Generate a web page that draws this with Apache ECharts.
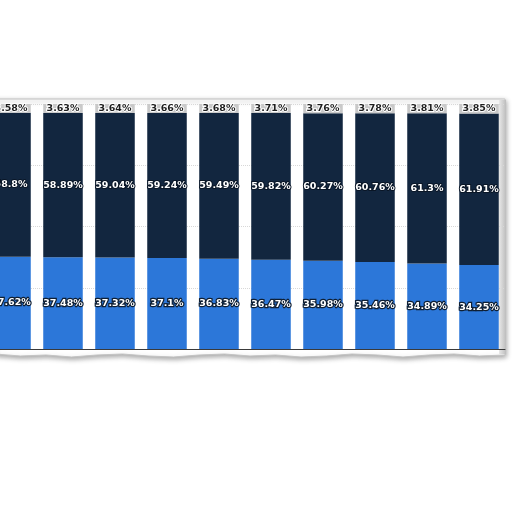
<!DOCTYPE html>
<html>
<head>
    <meta charset="utf-8">
    <title>ECharts</title>
    <script src="https://cdn.jsdelivr.net/npm/echarts@6/dist/echarts.min.js"></script>
    <style>
        html, body { margin: 0; padding: 0; background: #ffffff; }
    </style>
</head>
<body>
    <div id="main" style="width:512px;height:512px;"></div>
    <script type="text/javascript">
        // category names are not shown in the picture
        var categories = ['1', '2', '3', '4', '5', '6', '7', '8', '9', '10'];
        var bottomShare = [37.62, 37.48, 37.32, 37.1, 36.83, 36.47, 35.98, 35.46, 34.89, 34.25];
        var middleShare = [58.8, 58.89, 59.04, 59.24, 59.49, 59.82, 60.27, 60.76, 61.3, 61.91];
        var topShare = [3.58, 3.63, 3.64, 3.66, 3.68, 3.71, 3.76, 3.78, 3.81, 3.85];
        var percentTicks = [0, 25, 50, 75, 100];

        var chart = echarts.init(document.getElementById('main'));

        function pct(p) { return p.value + '%'; }

        var labelFont = {
            show: true,
            position: 'inside',
            formatter: pct,
            fontFamily: 'DejaVu Sans',
            fontWeight: 'bold',
            fontSize: 9.5
        };

        // torn paper edge under the panel
        var torn = [];
        var ys = [354, 356, 355, 357, 355, 354, 356, 357, 355, 354, 356, 355, 357, 356, 354, 355, 357, 355, 354, 356, 355];
        for (var i = 0; i < ys.length; i++) {
            torn.push([-5 + i * 25.5, ys[i]]);
        }
        var panelPts = [[-5, 99], [505, 99]].concat(torn.slice().reverse());

        var option = {
            animation: false,
            backgroundColor: '#ffffff',
            graphic: [
                {
                    type: 'polygon',
                    z: -10,
                    shape: { points: panelPts },
                    style: {
                        fill: '#ffffff',
                        stroke: '#c4c4c4',
                        lineWidth: 1,
                        shadowBlur: 5,
                        shadowColor: 'rgba(0,0,0,0.35)',
                        shadowOffsetX: 1,
                        shadowOffsetY: 2
                    }
                },
                {
                    type: 'rect',
                    z: -9,
                    shape: { x: 499, y: 100, width: 7, height: 254 },
                    style: {
                        fill: new echarts.graphic.LinearGradient(0, 0, 1, 0, [
                            { offset: 0, color: '#e8e8e8' },
                            { offset: 1, color: '#bdbdbd' }
                        ])
                    }
                }
            ],
            grid: {
                left: -15,
                width: 520,
                top: 104,
                height: 245,
                outerBoundsMode: 'none',
                containLabel: false
            },
            xAxis: {
                type: 'category',
                data: categories,
                axisLabel: { show: false },
                axisTick: { show: false },
                axisLine: { lineStyle: { color: '#3a3a3a', width: 1 } }
            },
            yAxis: {
                type: 'value',
                min: percentTicks[0],
                max: percentTicks[percentTicks.length - 1],
                interval: 25,
                axisLabel: { show: false },
                axisLine: { show: false },
                axisTick: { show: false },
                splitLine: { lineStyle: { color: '#d8d8d8', type: 'dotted' } }
            },
            series: [
                {
                    name: 'bottom',
                    type: 'bar',
                    stack: 'total',
                    barCategoryGap: '24%',
                    data: bottomShare,
                    itemStyle: { color: '#2c77d9' },
                    label: Object.assign({}, labelFont, {
                        color: '#ffffff',
                        textBorderColor: '#0f1f33',
                        textBorderWidth: 2.5
                    })
                },
                {
                    name: 'middle',
                    type: 'bar',
                    stack: 'total',
                    data: middleShare,
                    itemStyle: { color: '#12263f' },
                    label: Object.assign({}, labelFont, {
                        color: '#ffffff',
                        textBorderColor: '#0a1626',
                        textBorderWidth: 2
                    })
                },
                {
                    name: 'top',
                    type: 'bar',
                    stack: 'total',
                    data: topShare,
                    itemStyle: { color: '#c9c9c9' },
                    label: Object.assign({}, labelFont, {
                        color: '#1e1e1e',
                        textBorderColor: '#ffffff',
                        textBorderWidth: 2
                    })
                }
            ]
        };
        chart.setOption(option);
    </script>
</body>
</html>
